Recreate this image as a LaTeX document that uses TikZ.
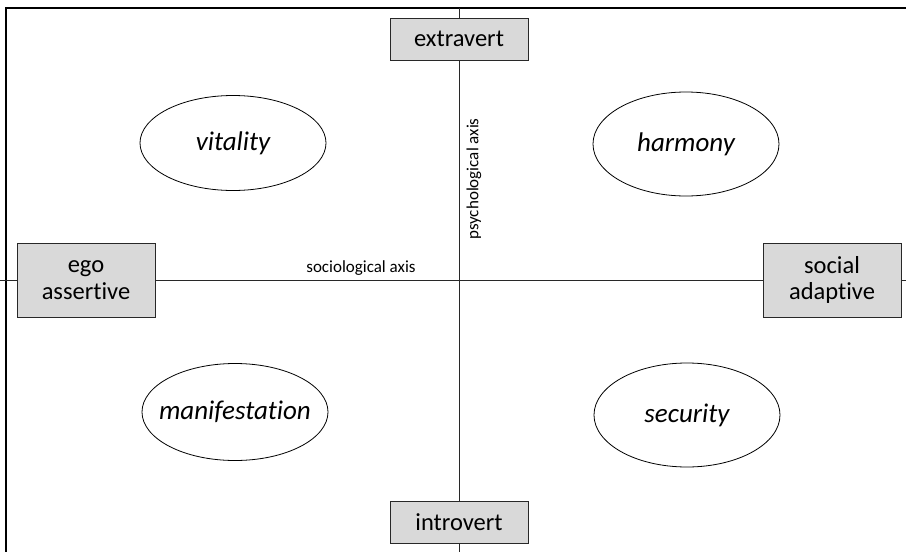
\documentclass[tikz,border=0pt]{standalone}
\usepackage{fontspec}
\setmainfont{Carlito}[Ligatures={NoCommon}]
\usetikzlibrary{shapes.geometric}
\definecolor{boxfill}{RGB}{217,217,217}
\definecolor{linegray}{RGB}{40,40,40}
\begin{document}
\begin{tikzpicture}[x=1pt,y=-1pt,
  pole/.style={draw=linegray, line width=0.9pt, fill=boxfill, minimum width=138pt, inner sep=0pt,
    align=center, font=\fontsize{24.5}{26.5}\selectfont},
  quad/.style={draw=black, line width=0.8pt, ellipse, inner sep=0pt, minimum width=186pt,
    font=\fontsize{27}{30}\selectfont\itshape},
  axis/.style={draw=linegray, line width=0.9pt},
  axlabel/.style={font=\fontsize{17}{19}\selectfont, inner sep=0pt},
  frame/.style={draw=black, line width=1.8pt}
]
\useasboundingbox (0,0) rectangle (906,552);
% frame
\draw[frame] (6,552) -- (6,8) -- (906,8);
% poles
\node[pole, minimum height=42pt] (ext) at (459,39) {extravert};
\node[pole, minimum height=42pt] (intro) at (459,522) {introvert};
\node[pole, minimum height=74pt] (ego) at (86,280) {ego\\assertive};
\node[pole, minimum height=74pt] (soc) at (832,280) {social\\adaptive};
% free ends of the axes
\coordinate (vtop) at (459,8);
\coordinate (vbot) at (459,552);
\coordinate (hleft) at (0,280);
\coordinate (hright) at (906,280);
% axes
\draw[axis] (vtop) -- (ext.north);
\draw[axis] (ext.south) -- (intro.north);
\draw[axis] (intro.south) -- (vbot);
\draw[axis] (hleft) -- (ego.west);
\draw[axis] (ego.east) -- (soc.west);
\draw[axis] (soc.east) -- (hright);
% axis labels
\node[axlabel] (soclab) at (361,268) {sociological axis};
\node[axlabel, rotate=90] (psylab) at (474,179) {psychological axis};
% quadrants
\node[quad, minimum height=95pt] (vit) at (233,143) {\makebox[0pt]{vitality}};
\node[quad, minimum height=104pt] (har) at (686,144) {\makebox[0pt]{harmony}};
\node[quad, minimum height=97pt] (man) at (235,412) {\makebox[0pt]{manifestation}};
\node[quad, minimum height=104pt] (sec) at (687,415) {\makebox[0pt]{security}};
\end{tikzpicture}
\end{document}
